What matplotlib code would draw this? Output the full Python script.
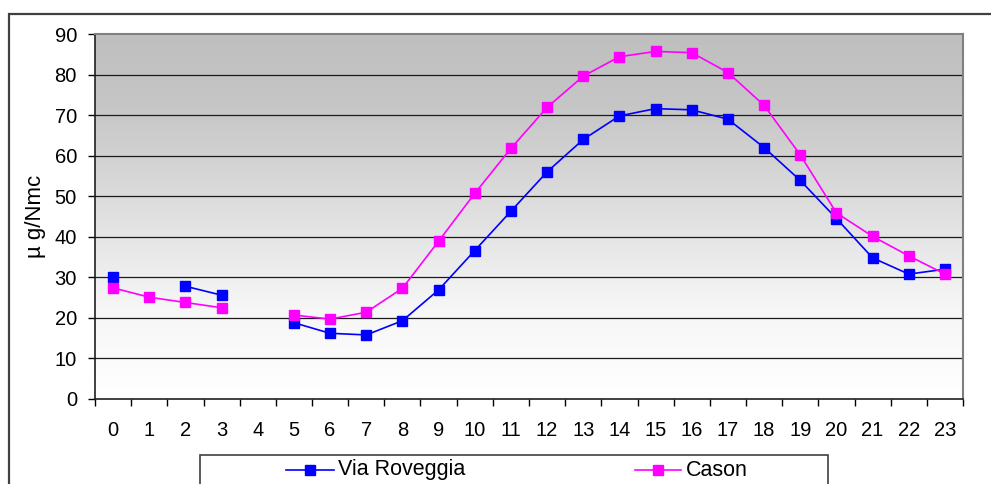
import numpy as np
import matplotlib
matplotlib.use("Agg")
import matplotlib.pyplot as plt
from matplotlib.patches import Rectangle
from matplotlib.lines import Line2D

plt.rcParams['font.family'] = ['Liberation Sans', 'DejaVu Sans']

hours = [str(h) for h in range(24)]
nan = np.nan
via_roveggia = [30.0, nan, 27.8, 25.6, nan, 18.8, 16.2, 15.8, 19.3, 26.9, 36.6, 46.3,
                56.0, 64.0, 69.8, 71.6, 71.3, 69.0, 62.0, 53.9, 44.5, 34.8, 30.8, 32.0]
cason = [27.4, 25.1, 23.8, 22.5, nan, 20.7, 19.7, 21.4, 27.3, 38.9, 50.7, 61.8,
         71.9, 79.6, 84.4, 85.7, 85.4, 80.5, 72.4, 60.2, 45.9, 40.1, 35.3, 30.8]
labels = ['Via Roveggia', 'Cason']
colors = ['#0000ff', '#ff00ff']

W, H = 991, 484
fig = plt.figure(figsize=(W / 100, H / 100), dpi=100)

# outer chart frame
fig.patches.append(Rectangle((9 / W, -0.1), 1.2, (H - 14) / H + 0.1, transform=fig.transFigure,
                             fill=False, edgecolor='#404040', lw=1.6))

ax = fig.add_axes([95 / W, (H - 399) / H, (963 - 95) / W, (399 - 34) / H])
x = np.arange(len(hours))

# gradient background
grad = np.linspace(0, 1, 256).reshape(-1, 1)
cmap = matplotlib.colors.LinearSegmentedColormap.from_list(
    'g', [(0, '#ffffff'), (0.25, '#f6f6f6'), (0.55, '#dcdcdc'), (0.8, '#c6c6c6'), (1, '#bfbfbf')])
ax.imshow(grad, extent=[0, 1, 0, 1], transform=ax.transAxes, origin='lower',
          aspect='auto', cmap=cmap, zorder=0)

for v in range(10, 90, 10):
    ax.axhline(v, color='#1a1a1a', lw=0.9, zorder=1)

ax.plot(x, via_roveggia, '-s', color=colors[0], lw=1.2, markersize=7.8, zorder=3)
ax.plot(x, cason, '-s', color=colors[1], lw=1.2, markersize=7.8, zorder=4)

ax.set_xlim(-0.5, 23.5)
ax.set_ylim(0, 90)
ax.set_yticks(range(0, 91, 10))
ax.set_xticks(x, hours)
ax.set_xticks(np.arange(-0.5, 24, 1), minor=True)
ax.tick_params(axis='x', which='major', length=0, pad=16, labelsize=14.5)
ax.tick_params(axis='x', which='minor', length=5, width=1, direction='out')
ax.tick_params(axis='y', length=5, width=1, direction='out', pad=8, labelsize=14.5)

for s in ['top', 'right']:
    ax.spines[s].set_color('#808080')
    ax.spines[s].set_linewidth(1.5)
ax.spines['left'].set_color('#202020')
ax.spines['bottom'].set_color('#202020')
ax.spines['left'].set_linewidth(1.2)
ax.spines['bottom'].set_linewidth(1.2)

fig.text(35 / W, 1 - 216 / H, 'µ g/Nmc', rotation=90, ha='center', va='center', fontsize=16)

# legend box
fig.patches.append(Rectangle((200 / W, -0.1), 628 / W, (H - 455) / H + 0.1,
                             transform=fig.transFigure, fill=False, edgecolor='#404040', lw=1.2))
ly = 1 - 470 / H
for (x0, x1, tx), lab, c in zip([(286, 334, 338), (635, 681, 686)], labels, colors):
    fig.lines.append(Line2D([x0 / W, x1 / W], [ly, ly], transform=fig.transFigure, color=c, lw=1.2))
    fig.lines.append(Line2D([(x0 + x1) / 2 / W], [ly], transform=fig.transFigure, color=c,
                            marker='s', markersize=7.8))
    fig.text(tx / W, ly, lab, va='center', ha='left', fontsize=15.5)

fig.savefig('out.png', dpi=100)
